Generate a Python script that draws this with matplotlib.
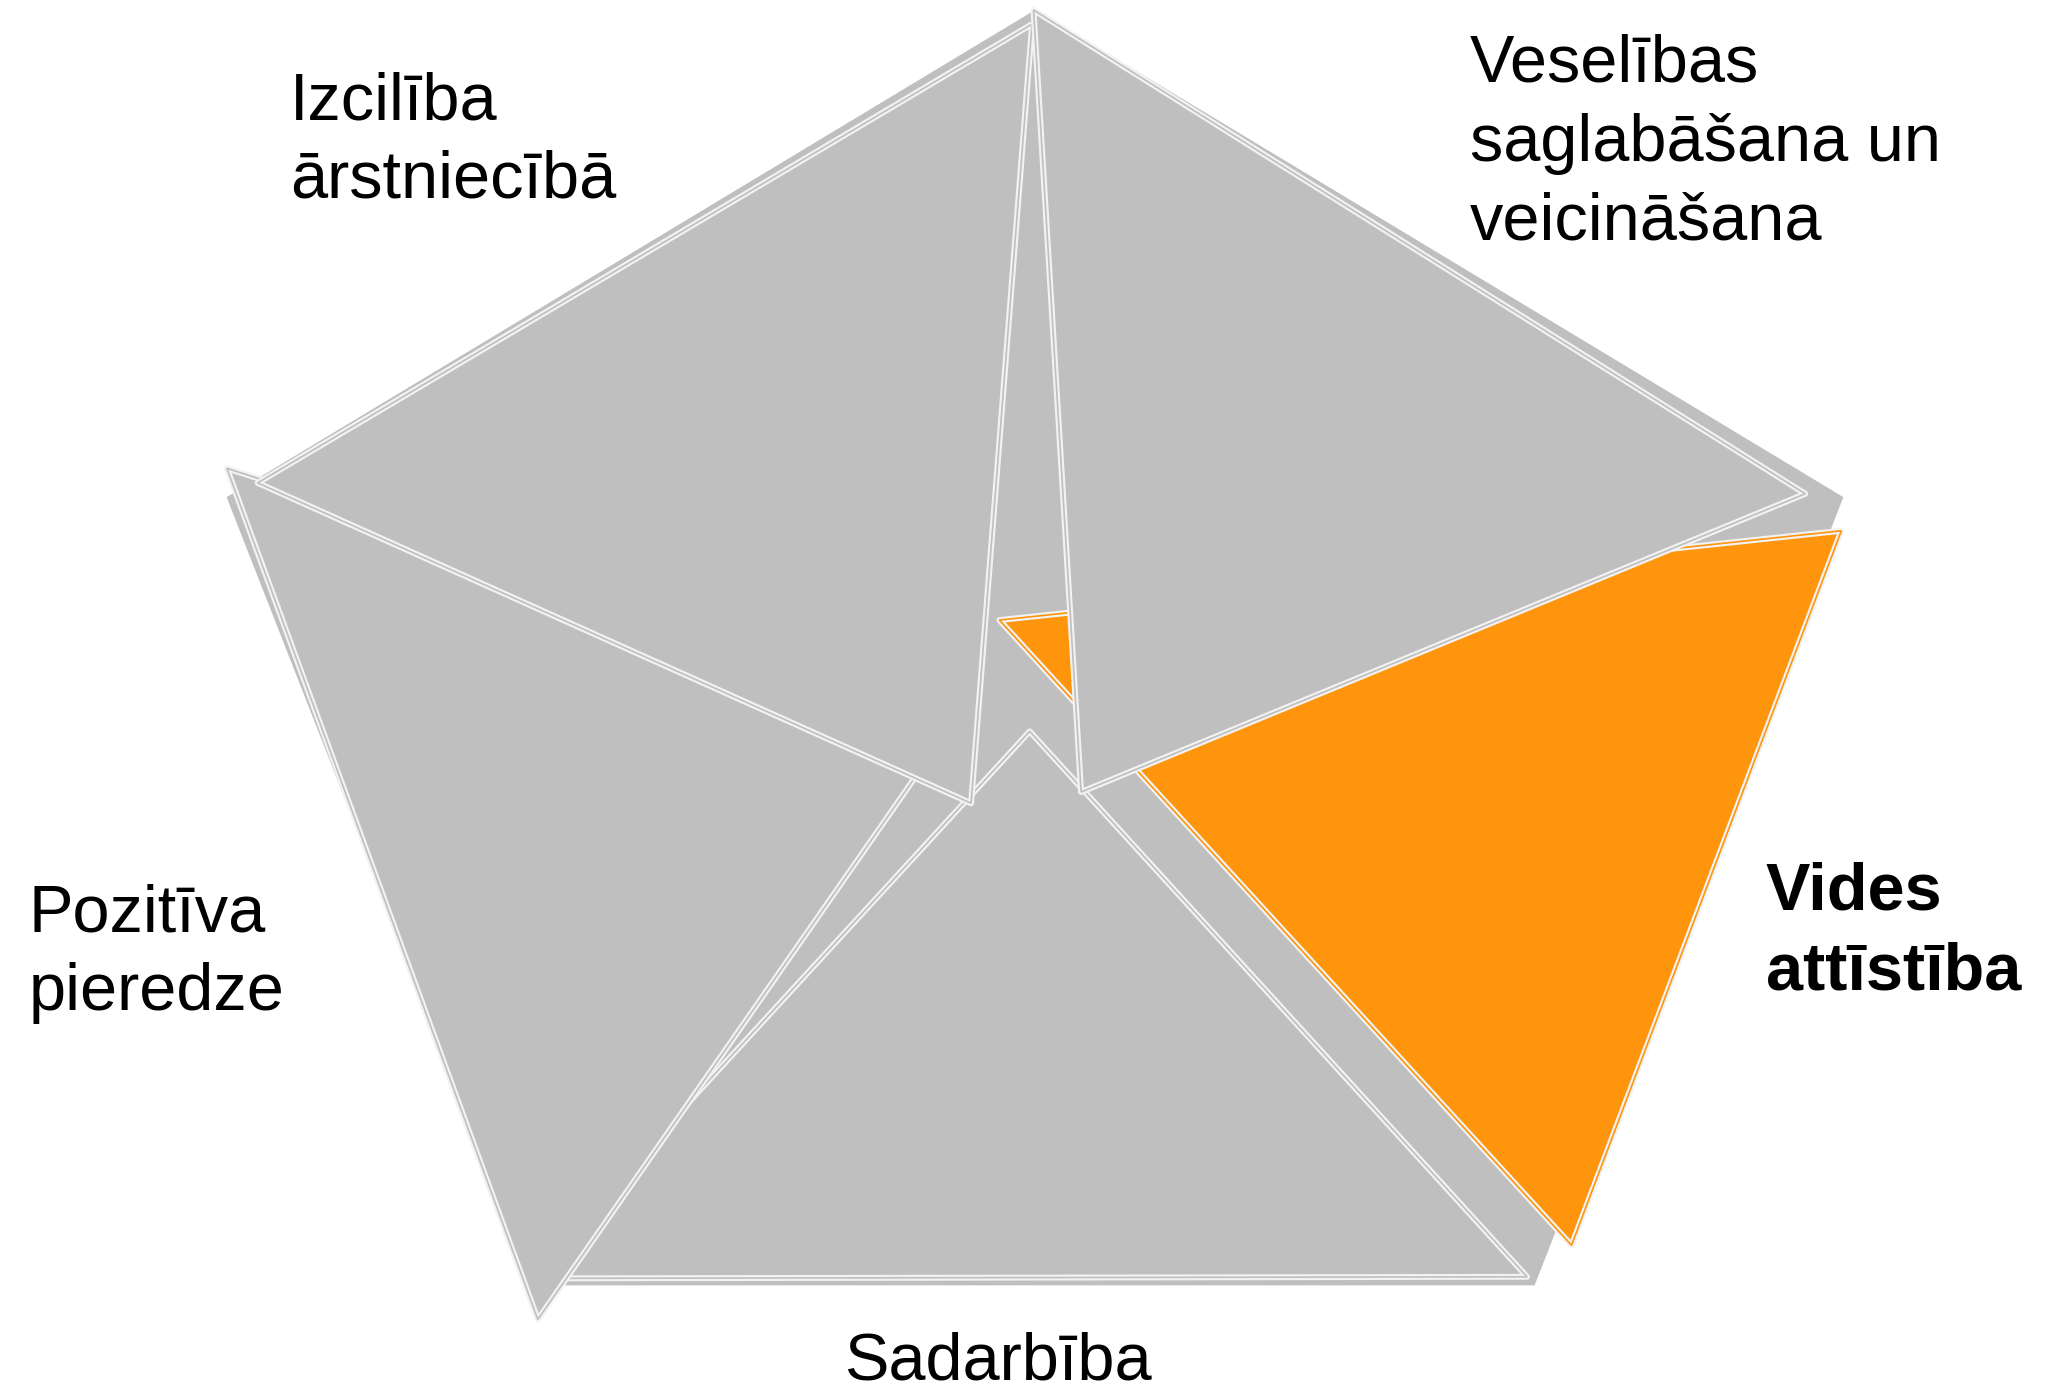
import numpy as np
import matplotlib
matplotlib.use("Agg")
import matplotlib.pyplot as plt
from matplotlib.patches import Polygon

plt.rcParams["font.family"] = ["Liberation Sans", "DejaVu Sans"]

# Five segments of the pentagon; each one is a triangle from a hub point
# near the centre out to two outer corners (polar: angle in degrees, radius).
categories = ["Izcilība\nārstniecībā",
              "Veselības\nsaglabāšana un\nveicināšana",
              "Vides\nattīstība",
              "Sadarbība",
              "Pozitīva\npieredze"]
outer_a_deg = [90.2, 90.1, 15.4, -54.0, 159.8]
outer_a_r = [0.980, 1.000, 0.984, 0.985, 1.013]
outer_b_deg = [160.2, 19.1, -50.0, -126.8, 235.7]
outer_b_r = [0.972, 0.959, 0.982, 0.998, 1.038]
hub_deg = [239.0, -63.6, 107.3, 255.0, 170.0]
hub_r = [0.146, 0.122, 0.141, 0.024, 0.083]
highlight = "Vides\nattīstība"

# stacking order of the segments (first is at the bottom)
draw_order = ["Sadarbība", "Pozitīva\npieredze", "Vides\nattīstība",
              "Izcilība\nārstniecībā",
              "Veselības\nsaglabāšana un\nveicināšana"]

# background pentagon corners
frame_deg = [90, 18, -54, -126, 162]

GREY = "#bfbfbf"
ORANGE = "#ff950c"
EDGE = "#f2f2f2"


def polar(deg, r):
    t = np.deg2rad(deg)
    return r * np.cos(t), r * np.sin(t)


W, H = 2067, 1392
fig = plt.figure(figsize=(W / 100, H / 100), dpi=100)
ax = fig.add_axes([0, 0, 1, 1])
ax.set_xlim(-1035 / 850, (W - 1035) / 850)
ax.set_ylim((715 - H) / 705, 715 / 705)
ax.axis("off")

frame = [polar(d, 1.0) for d in frame_deg]
ax.add_patch(Polygon(frame, closed=True, facecolor=GREY, edgecolor="none", zorder=1))

for k, name in enumerate(draw_order):
    i = categories.index(name)
    pts = [polar(hub_deg[i], hub_r[i]),
           polar(outer_a_deg[i], outer_a_r[i]),
           polar(outer_b_deg[i], outer_b_r[i])]
    col = ORANGE if name == highlight else GREY
    z = 2 + 3 * k
    ax.add_patch(Polygon(pts, closed=True, facecolor=col, edgecolor="none", zorder=z))
    ax.add_patch(Polygon(pts, closed=True, fill=False, edgecolor=EDGE,
                         linewidth=4.3, joinstyle="round", zorder=z + 1))
    ax.add_patch(Polygon(pts, closed=True, fill=False, edgecolor=col,
                         linewidth=1.2, joinstyle="miter", zorder=z + 2))

# category labels (one text per line, positioned by baseline in pixels)
label_pos = {
    "Izcilība\nārstniecībā": (290, [119, 198], "left"),
    "Veselības\nsaglabāšana un\nveicināšana": (1470, [82, 161, 240], "left"),
    "Vides\nattīstība": (1766, [910, 989], "left"),
    "Pozitīva\npieredze": (29, [931, 1010], "left"),
    "Sadarbība": (998, [1380], "center"),
}
for name in categories:
    x, baselines, ha = label_pos[name]
    weight = "bold" if name == highlight else "normal"
    for line, yb in zip(name.split("\n"), baselines):
        fig.text(x / W, 1 - yb / H, line, fontsize=48, ha=ha, va="baseline",
                 color="black", fontweight=weight)

fig.savefig("out.png", dpi=100, facecolor="white")
